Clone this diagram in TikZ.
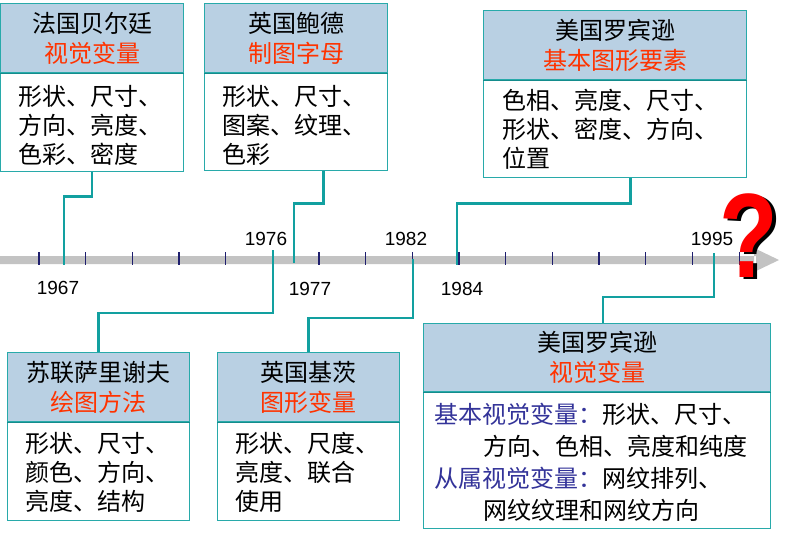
\documentclass[tikz,border=0pt]{standalone}
\usepackage{fontspec}
\setmainfont{Noto Sans CJK SC}
\newfontfamily\numfont{Liberation Sans}
\usetikzlibrary{calc}
\definecolor{conncol}{RGB}{18,160,160}
\definecolor{boxline}{RGB}{40,170,170}
\definecolor{sepline}{RGB}{20,140,140}
\definecolor{headfill}{RGB}{185,208,227}
\definecolor{redtxt}{RGB}{255,51,0}
\definecolor{bluetxt}{RGB}{51,51,153}
\definecolor{tickcol}{RGB}{30,30,110}
\definecolor{bandcol}{RGB}{195,195,195}
\begin{document}
\begin{tikzpicture}[x=1pt,y=-1pt,
  conn/.style={draw=conncol,line width=2.6pt},
  headbox/.style={draw=boxline,line width=1.2pt,fill=headfill,rectangle,inner sep=0pt},
  bodybox/.style={draw=boxline,line width=1.2pt,fill=white,rectangle,inner sep=0pt},
  ttl/.style={font=\fontsize{24}{30}\selectfont,align=center,inner sep=0pt},
  bodytxt/.style={font=\fontsize{24}{29}\selectfont,align=left,anchor=north west,inner sep=0pt},
  yr/.style={font=\numfont\fontsize{19}{19}\selectfont,inner sep=0pt},
  tickm/.style={draw=tickcol,line width=1.1pt},
  qmark/.style={font=\numfont\bfseries\fontsize{120}{120}\selectfont,inner sep=0pt,xscale=0.8}
]
\useasboundingbox (0,0) rectangle (803,539);
\fill[white] (0,0) rectangle (803,539);

% timeline
\fill[bandcol] (0,256) rectangle (756,264) (754,248) -- (779,260) -- (754,272) -- cycle;
\foreach \k in {0,...,15}{
  \draw[tickm] ({39+46.67*\k},252) -- ({39+46.67*\k},265);
}
\coordinate (t1967) at (64,265);
\coordinate (t1976) at (273,250);
\coordinate (t1977) at (294,263);
\coordinate (t1982) at (413,259);
\coordinate (t1984) at (457,265);
\coordinate (t1995) at (714,253);

\node[yr] (y1967) at (58,288) {1967};
\node[yr] (y1976) at (266,239) {1976};
\node[yr] (y1977) at (310,289) {1977};
\node[yr] (y1982) at (406,239) {1982};
\node[yr] (y1984) at (462,289) {1984};
\node[yr] (y1995) at (712,239) {1995};

% question mark
\node[qmark,text=black] (qs) at (753,238) {?};
\node[qmark,text=red] (q) at (749,236) {?};

% box 1
\node[headbox,minimum width=183pt,minimum height=69pt,anchor=north west] (b1h) at (0,3) {};
\node[bodybox,minimum width=183pt,minimum height=99pt,anchor=north west] (b1b) at (0,72) {};
\draw[sepline,line width=1.4pt] (b1h.south west) -- (b1h.south east);
\node[ttl] (b1t) at (b1h.center) {法国贝尔廷\\\textcolor{redtxt}{视觉变量}};
\node[bodytxt] (b1x) at ($(b1b.north west)+(18,13)$) {形状、尺寸、\\方向、亮度、\\色彩、密度};

% box 2
\node[headbox,minimum width=183pt,minimum height=69pt,anchor=north west] (b2h) at (204,3) {};
\node[bodybox,minimum width=183pt,minimum height=98pt,anchor=north west] (b2b) at (204,72) {};
\draw[sepline,line width=1.4pt] (b2h.south west) -- (b2h.south east);
\node[ttl] (b2t) at (b2h.center) {英国鲍德\\\textcolor{redtxt}{制图字母}};
\node[bodytxt] (b2x) at ($(b2b.north west)+(18,13)$) {形状、尺寸、\\图案、纹理、\\色彩};

% box 3
\node[headbox,minimum width=263pt,minimum height=69pt,anchor=north west] (b3h) at (483,10) {};
\node[bodybox,minimum width=263pt,minimum height=98pt,anchor=north west] (b3b) at (483,79) {};
\draw[sepline,line width=1.4pt] (b3h.south west) -- (b3h.south east);
\node[ttl] (b3t) at (b3h.center) {美国罗宾逊\\\textcolor{redtxt}{基本图形要素}};
\node[bodytxt] (b3x) at ($(b3b.north west)+(19,10)$) {色相、亮度、尺寸、\\形状、密度、方向、\\位置};

% box 4
\node[headbox,minimum width=182pt,minimum height=69pt,anchor=north west] (b4h) at (7,352) {};
\node[bodybox,minimum width=182pt,minimum height=99pt,anchor=north west] (b4b) at (7,421) {};
\draw[sepline,line width=1.4pt] (b4h.south west) -- (b4h.south east);
\node[ttl] (b4t) at (b4h.center) {苏联萨里谢夫\\\textcolor{redtxt}{绘图方法}};
\node[bodytxt] (b4x) at ($(b4b.north west)+(18,11)$) {形状、尺寸、\\颜色、方向、\\亮度、结构};

% box 5
\node[headbox,minimum width=182pt,minimum height=69pt,anchor=north west] (b5h) at (217,352) {};
\node[bodybox,minimum width=182pt,minimum height=99pt,anchor=north west] (b5b) at (217,421) {};
\draw[sepline,line width=1.4pt] (b5h.south west) -- (b5h.south east);
\node[ttl] (b5t) at (b5h.center) {英国基茨\\\textcolor{redtxt}{图形变量}};
\node[bodytxt] (b5x) at ($(b5b.north west)+(18,11)$) {形状、尺度、\\亮度、联合\\使用};

% box 6
\node[headbox,minimum width=347pt,minimum height=68pt,anchor=north west] (b6h) at (423,323) {};
\node[bodybox,minimum width=347pt,minimum height=137pt,anchor=north west] (b6b) at (423,391) {};
\draw[sepline,line width=1.4pt] (b6h.south west) -- (b6h.south east);
\node[ttl] (b6t) at (b6h.center) {美国罗宾逊\\\textcolor{redtxt}{视觉变量}};
\node[font=\fontsize{24}{32}\selectfont,align=left,anchor=north west,inner sep=0pt] (b6x) at ($(b6b.north west)+(11,12)$)
  {\textcolor{bluetxt}{基本视觉变量：}形状、尺寸、\\\hspace*{49pt}方向、色相、亮度和纯度\\\textcolor{bluetxt}{从属视觉变量：}网纹排列、\\\hspace*{49pt}网纹纹理和网纹方向};

% connectors
\draw[conn] (b1b.south) -- ++(0,24) -| (t1967);
\draw[conn] ([xshift=27.5pt]b2b.south) -- ++(0,32) -| (t1977);
\draw[conn] ([xshift=15.5pt]b3b.south) -- ++(0,25) -| (t1984);
\draw[conn] (t1976) |- ($(b4h.north)+(0,-39)$) -- (b4h.north);
\draw[conn] (t1982) |- ($(b5h.north)+(0,-34)$) -- (b5h.north);
\draw[conn] (t1995) |- ($(b6h.north)+(6,-26)$) -- ([xshift=6pt]b6h.north);
\end{tikzpicture}
\end{document}
